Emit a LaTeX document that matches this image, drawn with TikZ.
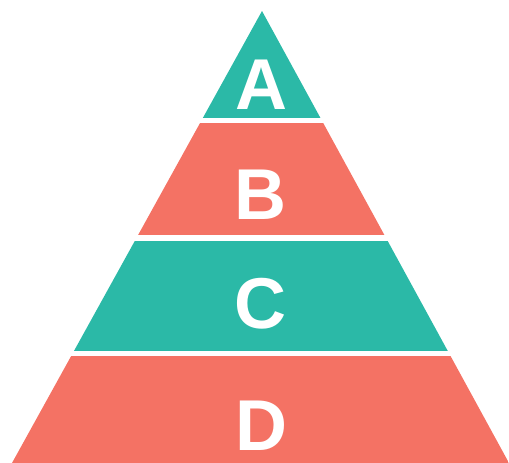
\documentclass[tikz,border=0pt]{standalone}
\usepackage{fontspec}
\setmainfont{Liberation Sans}
\usepackage{tikz}
\definecolor{MyTeal}{RGB}{43,185,167}
\definecolor{MySalmon}{RGB}{244,114,100}
\tikzset{
  tierlabel/.style={text=white,font=\fontsize{72}{72}\selectfont\bfseries,inner sep=0pt}
}
\begin{document}
\begin{tikzpicture}[x=1pt,y=-1pt]
                \useasboundingbox (0,0) rectangle (509,463);
                \begin{scope}
                    \clip (262,11) -- (12,463) -- (509,463) -- cycle;
                    \fill[MyTeal] (0,0) rectangle (509,118);
                    \fill[MySalmon] (0,123) rectangle (509,235);
                    \fill[MyTeal] (0,241) rectangle (509,351);
                    \fill[MySalmon] (0,356) rectangle (509,463);
                \end{scope}

                \node[tierlabel] (a) at (261,85) {A};
                \node[tierlabel] (b) at (260,195) {B};
                \node[tierlabel] (c) at (260,304) {C};
                \node[tierlabel] (d) at (261,426) {D};
            \end{tikzpicture}
\end{document}
